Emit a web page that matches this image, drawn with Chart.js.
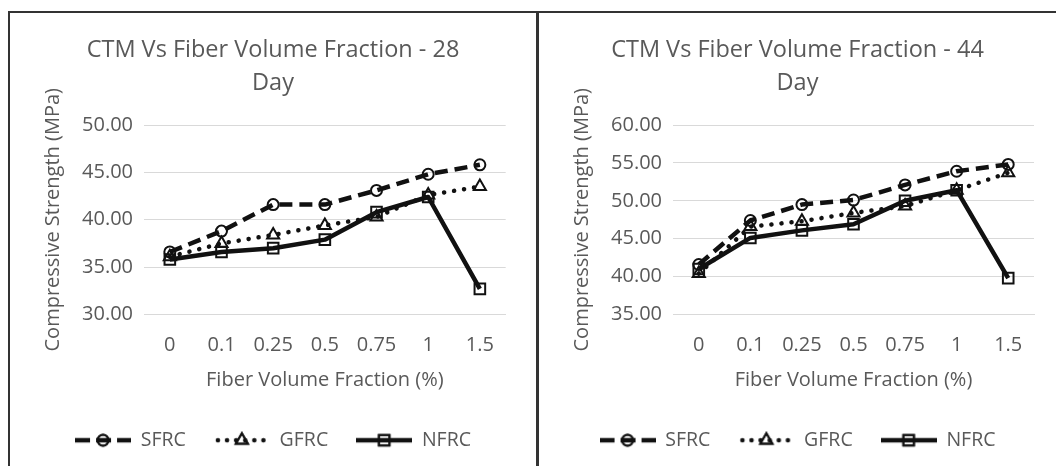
<!DOCTYPE html>
<html><head><meta charset="utf-8">
<script src="https://cdn.jsdelivr.net/npm/chart.js@4.4.1/dist/chart.umd.min.js"></script>
<style>
html,body{margin:0;padding:0;background:#fff;width:1056px;height:466px;overflow:hidden}
.frame{position:absolute;background:#333}
.wrap{position:absolute;top:13px;height:453px}
</style></head><body>
<div class="frame" style="left:8px;top:11px;width:1048px;height:2px"></div>
<div class="frame" style="left:8px;top:11px;width:2px;height:455px"></div>
<div class="frame" style="left:536px;top:11px;width:3px;height:455px"></div>
<div class="wrap" style="left:10px;width:526px"><canvas id="c1"></canvas></div>
<div class="wrap" style="left:539px;width:517px"><canvas id="c2"></canvas></div>
<script>
const categories = ['0', '0.1', '0.25', '0.5', '0.75', '1', '1.5'];
const seriesNames = ['SFRC', 'GFRC', 'NFRC'];

const sfrc28 = [36.6, 38.8, 41.6, 41.6, 43.1, 44.8, 45.8];
const gfrc28 = [36.1, 37.5, 38.4, 39.4, 40.3, 42.6, 43.5];
const nfrc28 = [35.8, 36.6, 37.0, 37.9, 40.8, 42.4, 32.7];

const sfrc44 = [41.6, 47.4, 49.5, 50.1, 52.1, 53.9, 54.8];
const gfrc44 = [40.4, 46.6, 47.3, 48.4, 49.3, 51.4, 53.7];
const nfrc44 = [41.0, 45.1, 46.1, 46.9, 50.0, 51.4, 39.8];

const yRange28 = [30, 50];
const yRange44 = [35, 60];
const yStep = 5;

const title28 = ['CTM Vs Fiber Volume Fraction - 28', 'Day'];
const title44 = ['CTM Vs Fiber Volume Fraction - 44', 'Day'];
const xTitle = 'Fiber Volume Fraction (%)';
const yTitle = 'Compressive Strength (MPa)';

const FONT = '"Open Sans", "Noto Sans", sans-serif';
const TXT = '#595959';
const INK = '#111';

const styles = [
  {dash: [13, 7], cap: 'butt', point: 'circle', r: 5.5},
  {dash: [0.1, 10], cap: 'round', point: 'triangle', r: 7},
  {dash: [], cap: 'butt', point: 'rect', r: 7.5}
];

function legendImg(i) {
  const c = document.createElement('canvas');
  c.width = 56; c.height = 20;
  const ctx = c.getContext('2d');
  const st = styles[i];
  ctx.strokeStyle = INK; ctx.lineWidth = 4.5; ctx.lineCap = st.cap;
  ctx.setLineDash(st.dash);
  if (i === 0) { ctx.setLineDash([15, 6]); }
  if (i === 1) { ctx.setLineDash([0.1, 9]); ctx.lineDashOffset = -2; }
  ctx.beginPath(); ctx.moveTo(i === 1 ? 2 : 0, 10); ctx.lineTo(i === 1 ? 54 : 56, 10); ctx.stroke();
  ctx.setLineDash([]);
  ctx.lineWidth = 2; ctx.fillStyle = 'rgba(0,0,0,0)';
  Chart.helpers.drawPoint(ctx, {pointStyle: st.point, radius: st.r, borderWidth: 2}, 28, 10);
  ctx.stroke();
  return c;
}

function makeChart(id, s, g, n, yr, title, rightPad) {
  const data = [s, g, n];
  const imgs = [0, 1, 2].map(legendImg);
  return new Chart(document.getElementById(id), {
    type: 'line',
    data: {
      labels: categories,
      datasets: data.map((d, i) => ({
        label: seriesNames[i],
        data: d,
        order: 3 - i,
        borderColor: INK,
        borderWidth: 4.5,
        borderDash: styles[i].dash,
        borderCapStyle: styles[i].cap,
        borderJoinStyle: 'round',
        tension: 0,
        fill: false,
        pointStyle: styles[i].point,
        pointRadius: styles[i].r,
        pointHoverRadius: styles[i].r,
        pointBorderColor: INK,
        pointBackgroundColor: 'rgba(255,255,255,0)',
        pointBorderWidth: 2
      }))
    },
    options: {
      responsive: true,
      maintainAspectRatio: false,
      animation: false,
      layout: {padding: {left: 0, right: 0, top: 0, bottom: 6}},
      plugins: {
        tooltip: {enabled: false},
        title: {
          display: true, text: title, color: TXT,
          font: {family: FONT, size: 23.5, weight: 'normal', lineHeight: 33 / 23.5},
          padding: {top: 20.5, bottom: 25.5}
        },
        legend: {
          position: 'bottom',
          labels: {
            usePointStyle: true, pointStyleWidth: 56, padding: 28,
            color: TXT, font: {family: FONT, size: 19.5},
            generateLabels(chart) {
              const items = Chart.defaults.plugins.legend.labels.generateLabels(chart);
              items.forEach(it => { it.pointStyle = imgs[it.datasetIndex]; it.fontColor = TXT; });
              return items.sort((a, b) => a.datasetIndex - b.datasetIndex);
            }
          }
        }
      },
      scales: {
        x: {
          type: 'category', offset: true,
          grid: {display: false, drawTicks: false},
          border: {display: true, color: '#d9d9d9', width: 1},
          ticks: {color: TXT, font: {family: FONT, size: 20}, padding: 19, maxRotation: 0},
          title: {display: true, text: xTitle, color: TXT, font: {family: FONT, size: 20}, padding: {top: 0, bottom: 10}},
          afterFit(sc) { sc.height = 88; }
        },
        y: {
          min: yr[0], max: yr[1],
          grid: {color: '#d9d9d9', lineWidth: 1, drawTicks: false},
          border: {display: false},
          ticks: {stepSize: yStep, color: TXT, font: {family: FONT, size: 20}, padding: 11,
            callback: v => Number(v).toFixed(2)},
          title: {display: true, text: yTitle, color: TXT, font: {family: FONT, size: 20}, padding: {top: 31, bottom: 0}},
          afterFit(sc) { sc.width = 134; }
        },
        yr: {
          type: 'linear', position: 'right', display: true,
          grid: {display: false, drawTicks: false}, border: {display: false},
          ticks: {display: false},
          afterFit(sc) { sc.width = rightPad; }
        }
      }
    }
  });
}

makeChart('c1', sfrc28, gfrc28, nfrc28, yRange28, title28, 30.3);
makeChart('c2', sfrc44, gfrc44, nfrc44, yRange44, title44, 22);
</script>
</body></html>
